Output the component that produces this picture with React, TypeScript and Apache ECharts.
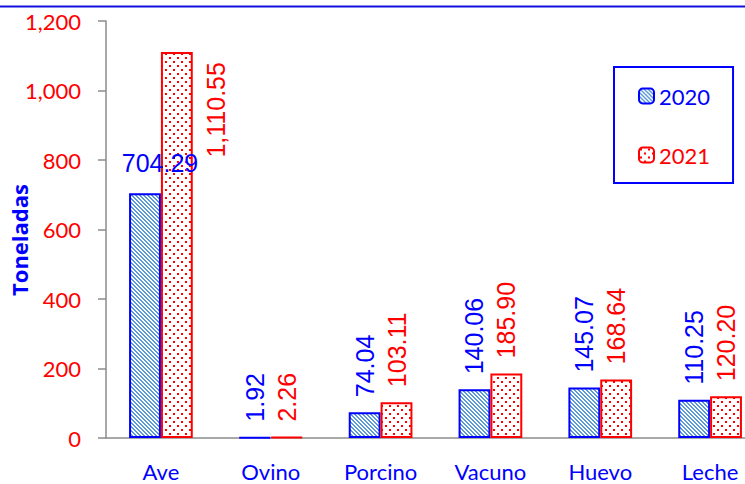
import React, { useEffect, useRef } from 'react';
import * as echarts from 'echarts';

const categories = ['Ave', 'Ovino', 'Porcino', 'Vacuno', 'Huevo', 'Leche'];
const seriesNames = ['2020', '2021'];
const values2020 = [704.29, 1.92, 74.04, 140.06, 145.07, 110.25];
const values2021 = [1110.55, 2.26, 103.11, 185.9, 168.64, 120.2];
const yAxisTitle = 'Toneladas';
const yMin = 0;
const yMax = 1200;
const yInterval = 200;

const BLUE = '#0000ff';
const RED = '#ff0000';

function makeHatch(): HTMLCanvasElement {
  const c = document.createElement('canvas');
  c.width = 4;
  c.height = 4;
  const ctx = c.getContext('2d')!;
  ctx.fillStyle = '#ffffff';
  ctx.fillRect(0, 0, 4, 4);
  ctx.fillStyle = '#5b9bd5';
  for (let i = 0; i < 4; i++) {
    ctx.fillRect(i, i, 1, 1);
    ctx.fillRect((i + 1) % 4, i, 1, 1);
  }
  return c;
}

function makeDots(): HTMLCanvasElement {
  const c = document.createElement('canvas');
  c.width = 8;
  c.height = 8;
  const ctx = c.getContext('2d')!;
  ctx.fillStyle = '#ffffff';
  ctx.fillRect(0, 0, 8, 8);
  ctx.fillStyle = RED;
  ctx.fillRect(1, 1, 2, 2);
  ctx.fillRect(5, 5, 2, 2);
  return c;
}

const fmt = (v: number) =>
  v.toLocaleString('en-US', { minimumFractionDigits: 2, maximumFractionDigits: 2 });

export default function App() {
  const ref = useRef<HTMLDivElement>(null);
  useEffect(() => {
    if (!ref.current) return;
    const chart = echarts.init(ref.current, undefined, { renderer: 'svg' });
    const hatch = makeHatch();
    const dots = makeDots();
    const labelFont = { fontFamily: 'Liberation Sans', fontSize: 25 };
    const rotTop = {
      show: true,
      position: 'top',
      rotate: 90,
      align: 'left',
      verticalAlign: 'middle',
      distance: 15,
      ...labelFont,
    };
    const d2020 = values2020.map((v, i) =>
      i === 0
        ? {
            value: v,
            label: {
              show: true,
              position: 'top',
              rotate: 0,
              align: 'center',
              verticalAlign: 'bottom',
              distance: 18,
              offset: [15, 0],
              ...labelFont,
            },
          }
        : { value: v }
    );
    const d2021 = values2021.map((v, i) =>
      i === 0
        ? {
            value: v,
            label: {
              show: true,
              position: [55, 10],
              rotate: 90,
              align: 'right',
              verticalAlign: 'middle',
              ...labelFont,
            },
          }
        : { value: v }
    );
    chart.setOption({
      animation: false,
      graphic: [
        {
          type: 'line',
          shape: { x1: 0, y1: 6.5, x2: 745, y2: 6.5 },
          style: { stroke: '#1010e0', lineWidth: 2 },
        },
        {
          type: 'text',
          x: 18.5,
          y: 240,
          rotation: Math.PI / 2,
          style: {
            text: yAxisTitle,
            fill: BLUE,
            fontFamily: 'Open Sans',
            fontWeight: 'bold',
            fontSize: 22,
            align: 'center',
            verticalAlign: 'middle',
          },
        },
      ],
      legend: {
        orient: 'vertical',
        left: 614,
        top: 67,
        padding: [18, 23, 17, 24],
        itemGap: 37,
        itemWidth: 15,
        itemHeight: 15,
        borderColor: BLUE,
        borderWidth: 2,
        textStyle: { fontFamily: 'Lato', fontSize: 22 },
        data: [
          { name: seriesNames[0], textStyle: { color: BLUE } },
          { name: seriesNames[1], textStyle: { color: RED } },
        ],
      },
      grid: {
        left: 106,
        right: -20,
        top: 21,
        bottom: 46,
        containLabel: false,
        outerBoundsMode: 'none',
      },
      xAxis: {
        type: 'category',
        data: categories,
        axisLine: { lineStyle: { color: '#8c8c8c', width: 1.5 } },
        axisTick: { show: false },
        axisLabel: {
          color: BLUE,
          fontFamily: 'Lato',
          fontSize: 22,
          margin: 22,
          interval: 0,
        },
      },
      yAxis: {
        type: 'value',
        min: yMin,
        max: yMax,
        interval: yInterval,
        splitLine: { show: false },
        axisLine: { show: true, lineStyle: { color: '#8c8c8c', width: 1.5 } },
        axisTick: { show: true, length: 8, lineStyle: { color: '#8c8c8c', width: 1.5 } },
        axisLabel: {
          color: RED,
          fontFamily: 'Lato',
          fontSize: 22,
          margin: 25,
          formatter: (v: number) => v.toLocaleString('en-US'),
        },
      },
      series: [
        {
          name: seriesNames[0],
          type: 'bar',
          data: d2020,
          barGap: '0%',
          barCategoryGap: '42%',
          itemStyle: {
            color: { image: hatch, repeat: 'repeat' },
            borderColor: BLUE,
            borderWidth: 2,
          },
          label: {
            ...rotTop,
            color: BLUE,
            formatter: (p: any) => fmt(p.value),
          },
        },
        {
          name: seriesNames[1],
          type: 'bar',
          data: d2021,
          barGap: '0%',
          barCategoryGap: '42%',
          itemStyle: {
            color: { image: dots, repeat: 'repeat' },
            borderColor: RED,
            borderWidth: 2,
          },
          label: {
            ...rotTop,
            color: RED,
            formatter: (p: any) => fmt(p.value),
          },
        },
      ],
    });
    return () => chart.dispose();
  }, []);
  return (
    <div
      ref={ref}
      style={{ position: 'fixed', left: 0, top: 0, width: 745, height: 484, background: '#fff' }}
    />
  );
}
